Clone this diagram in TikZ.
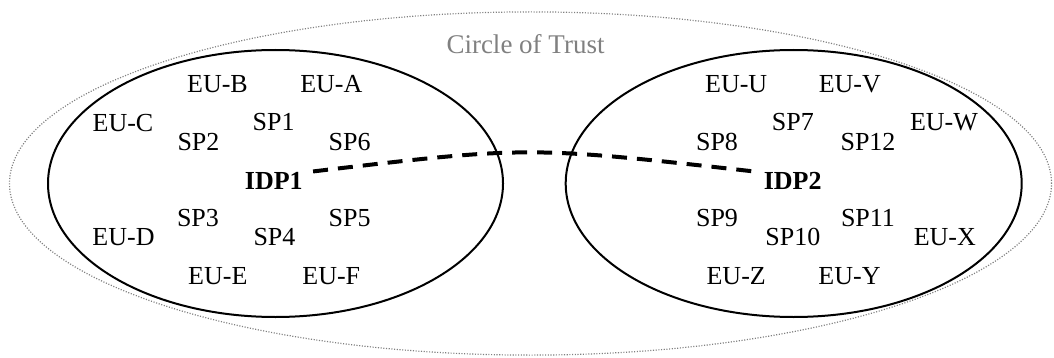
\documentclass[tikz,border=0pt]{standalone}
\usepackage{fontspec}
\setmainfont{Liberation Serif}
\begin{document}
\begin{tikzpicture}[x=0.5pt,y=-0.5pt,
  lbl/.style={anchor=base,inner sep=0pt,font=\fontsize{13}{15}\selectfont},
  idp/.style={lbl,font=\fontsize{13}{15}\selectfont\bfseries,inner xsep=5pt},
  cot/.style={anchor=base,inner sep=0pt,text=gray,font=\fontsize{13.5}{16}\selectfont},
  idpdomain/.style={draw=black,line width=1pt},
  trust/.style={draw=gray,line width=0.6pt,dash pattern=on 0.55pt off 0.8pt},
  link/.style={draw=black,line width=2pt,dash pattern=on 7.5pt off 5pt}]
\useasboundingbox (0,0) rectangle (1054,358);

% circle of trust
\path[trust] (530.5,183.5) ellipse [x radius=260.5pt, y radius=85.8pt];
\node[cot] (cot) at (525.5,53.3) {Circle of Trust};

% the two identity-provider domains
\path[idpdomain] (275.5,183.5) ellipse [x radius=113.75pt, y radius=66.75pt];
\path[idpdomain] (793.7,183.5) ellipse [x radius=114pt, y radius=66.75pt];

% left domain
\node[lbl] (eub) at (217.5,92.7) {EU-B};
\node[lbl] (eua) at (331.3,92.7) {EU-A};
\node[lbl] (euc) at (123,131.5) {EU-C};
\node[lbl] (sp1) at (273.7,131) {SP1};
\node[lbl] (sp2) at (198.5,150) {SP2};
\node[lbl] (sp6) at (349.7,150) {SP6};
\node[idp] (idp1) at (273.8,189) {IDP1};
\node[lbl] (sp3) at (198,226) {SP3};
\node[lbl] (sp5) at (349.7,226) {SP5};
\node[lbl] (eud) at (123.5,245.7) {EU-D};
\node[lbl] (sp4) at (274.5,245.7) {SP4};
\node[lbl] (eue) at (217.8,284) {EU-E};
\node[lbl] (euf) at (331.3,284) {EU-F};

% right domain
\node[lbl] (euu) at (736.2,92.7) {EU-U};
\node[lbl] (euv) at (849.8,92.7) {EU-V};
\node[lbl] (sp7) at (792.8,131) {SP7};
\node[lbl] (euw) at (944,131) {EU-W};
\node[lbl] (sp8) at (717,150) {SP8};
\node[lbl] (sp12) at (868,150) {SP12};
\node[idp] (idp2) at (792.7,189) {IDP2};
\node[lbl] (sp9) at (717,226) {SP9};
\node[lbl] (sp11) at (868,226) {SP11};
\node[lbl] (sp10) at (792.8,245.7) {SP10};
\node[lbl] (eux) at (944.8,245.7) {EU-X};
\node[lbl] (euz) at (736.2,284) {EU-Z};
\node[lbl] (euy) at (849.5,284) {EU-Y};

% federation link between the identity providers
\path[link] (idp1.north east) .. controls (528,146) .. (idp2.north west);
\end{tikzpicture}
\end{document}
